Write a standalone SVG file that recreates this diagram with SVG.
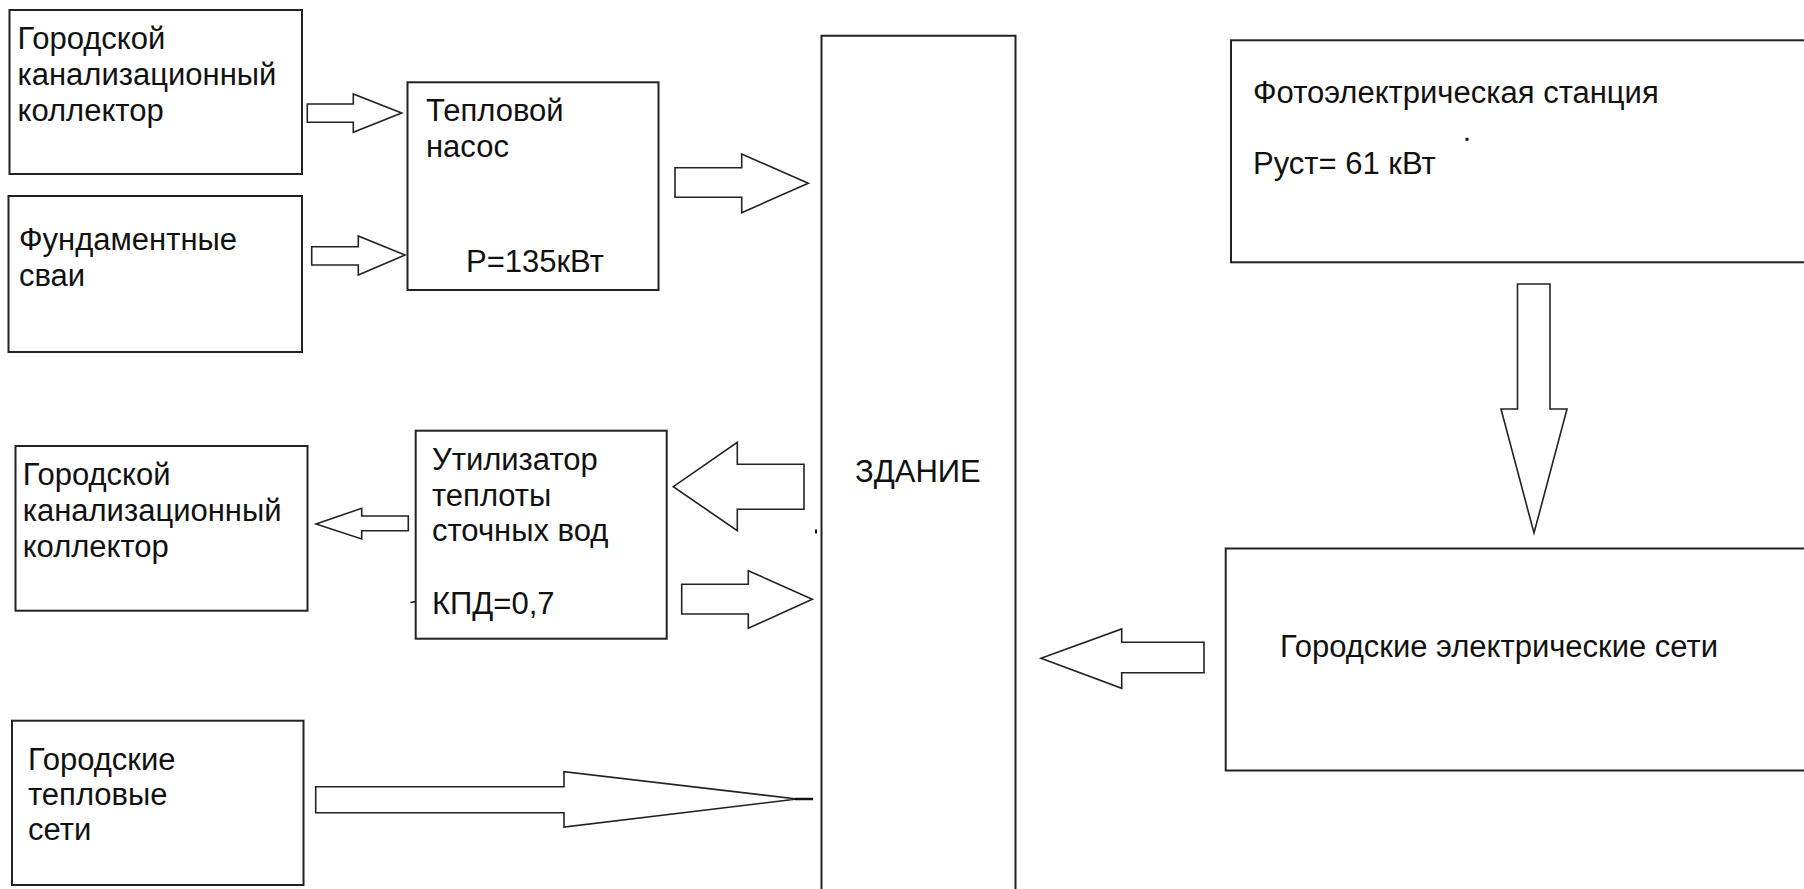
<svg xmlns="http://www.w3.org/2000/svg" width="1804" height="889" viewBox="0 0 1804 889">
<style>
  .box { fill: #ffffff; stroke: #222222; stroke-width: 2; }
  .arrow { fill: #ffffff; stroke: #222222; stroke-width: 1.6; stroke-linejoin: miter; }
  .t { font-family: "Liberation Sans", Arial, sans-serif; font-size: 31px; fill: #111111; }
  .mark { fill: #111111; stroke: none; }
</style>
<rect x="0" y="0" width="1804" height="889" fill="#ffffff"/>

<g id="connectors">
  <!-- канализационный коллектор -> тепловой насос -->
  <polygon class="arrow" points="307.3,104 353.3,104 353.3,94 401.7,113 353.3,132.3 353.3,122.3 307.3,122.3"/>
  <!-- фундаментные сваи -> тепловой насос -->
  <polygon class="arrow" points="311.7,246.7 358.3,246.7 358.3,236 405,255 358.3,275 358.3,265 311.7,265"/>
  <!-- тепловой насос -> здание -->
  <polygon class="arrow" points="675,167.7 741.7,167.7 741.7,154 808.3,183.3 741.7,212.7 741.7,197.3 675,197.3"/>
  <!-- здание -> утилизатор -->
  <polygon class="arrow" points="804,464.3 737.3,464.3 737.3,442.3 673.3,486.7 737.3,530.7 737.3,509.3 804,509.3"/>
  <!-- утилизатор -> здание -->
  <polygon class="arrow" points="681.7,584.3 748.3,584.3 748.3,570.7 812.3,599.3 748.3,628.3 748.3,614 681.7,614"/>
  <!-- утилизатор -> коллектор -->
  <polygon class="arrow" points="408.3,516 361.7,516 361.7,508.3 316,524 361.7,539 361.7,530.7 408.3,530.7"/>
  <!-- тепловые сети -> здание -->
  <polygon class="arrow" points="315.7,786.7 564,786.7 564,771.7 797,799 564,827 564,812.7 315.7,812.7"/>
  <line x1="795" y1="799" x2="813" y2="799" stroke="#111111" stroke-width="2.5"/>
  <!-- электрические сети -> здание -->
  <polygon class="arrow" points="1204,642.3 1121.7,642.3 1121.7,629 1041,658.3 1121.7,688.3 1121.7,672.7 1204,672.7"/>
  <!-- фотоэлектрическая станция -> электрические сети -->
  <polygon class="arrow" points="1517.5,284 1550,284 1550,409 1567,409 1534,533 1501,409 1517.5,409"/>
</g>

<g id="node-kanal-top">
  <rect class="box" x="9.5" y="10" width="292.5" height="164"/>
  <text class="t" x="17.5" y="48.5">Городской</text>
  <text class="t" x="17.5" y="84.5">канализационный</text>
  <text class="t" x="17.5" y="120.5">коллектор</text>
</g>

<g id="node-svai">
  <rect class="box" x="8.5" y="196" width="293.5" height="156"/>
  <text class="t" x="19" y="250">Фундаментные</text>
  <text class="t" x="19" y="286">сваи</text>
</g>

<g id="node-heatpump">
  <rect class="box" x="407.5" y="82.3" width="251" height="207.7"/>
  <text class="t" x="426" y="121">Тепловой</text>
  <text class="t" x="426" y="157">насос</text>
  <text class="t" x="466" y="272">P=135кВт</text>
</g>

<g id="node-kanal-bottom">
  <rect class="box" x="15.5" y="446" width="292" height="164.7"/>
  <text class="t" x="22.7" y="485">Городской</text>
  <text class="t" x="22.7" y="521">канализационный</text>
  <text class="t" x="22.7" y="557">коллектор</text>
</g>

<g id="node-utilizer">
  <rect class="box" x="415.7" y="430.7" width="251" height="208"/>
  <text class="t" x="432" y="470">Утилизатор</text>
  <text class="t" x="432" y="505.5">теплоты</text>
  <text class="t" x="432" y="541">сточных вод</text>
  <text class="t" x="432" y="613.5">КПД=0,7</text>
  <line x1="410.5" y1="602.5" x2="415.5" y2="601.5" stroke="#111111" stroke-width="1.5"/>
</g>

<g id="node-heatnet">
  <rect class="box" x="12" y="720.7" width="291.5" height="164.3"/>
  <text class="t" x="28" y="770">Городские</text>
  <text class="t" x="28" y="805">тепловые</text>
  <text class="t" x="28" y="840">сети</text>
</g>

<g id="node-building">
  <path class="box" d="M821.5,895 L821.5,35.7 L1015.5,35.7 L1015.5,895"/>
  <text class="t" x="855" y="482">ЗДАНИЕ</text>
  <rect class="mark" x="815" y="529.5" width="2" height="4"/>
</g>

<g id="node-pv">
  <rect class="box" x="1231" y="40.3" width="590" height="222"/>
  <text class="t" x="1253" y="102.5">Фотоэлектрическая станция</text>
  <text class="t" x="1253" y="174">Руст= 61 кВт</text>
  <rect class="mark" x="1465.5" y="137.8" width="3" height="3"/>
</g>

<g id="node-elnet">
  <rect class="box" x="1225.7" y="548.5" width="595" height="222"/>
  <text class="t" x="1280" y="657">Городские электрические сети</text>
</g>
</svg>
